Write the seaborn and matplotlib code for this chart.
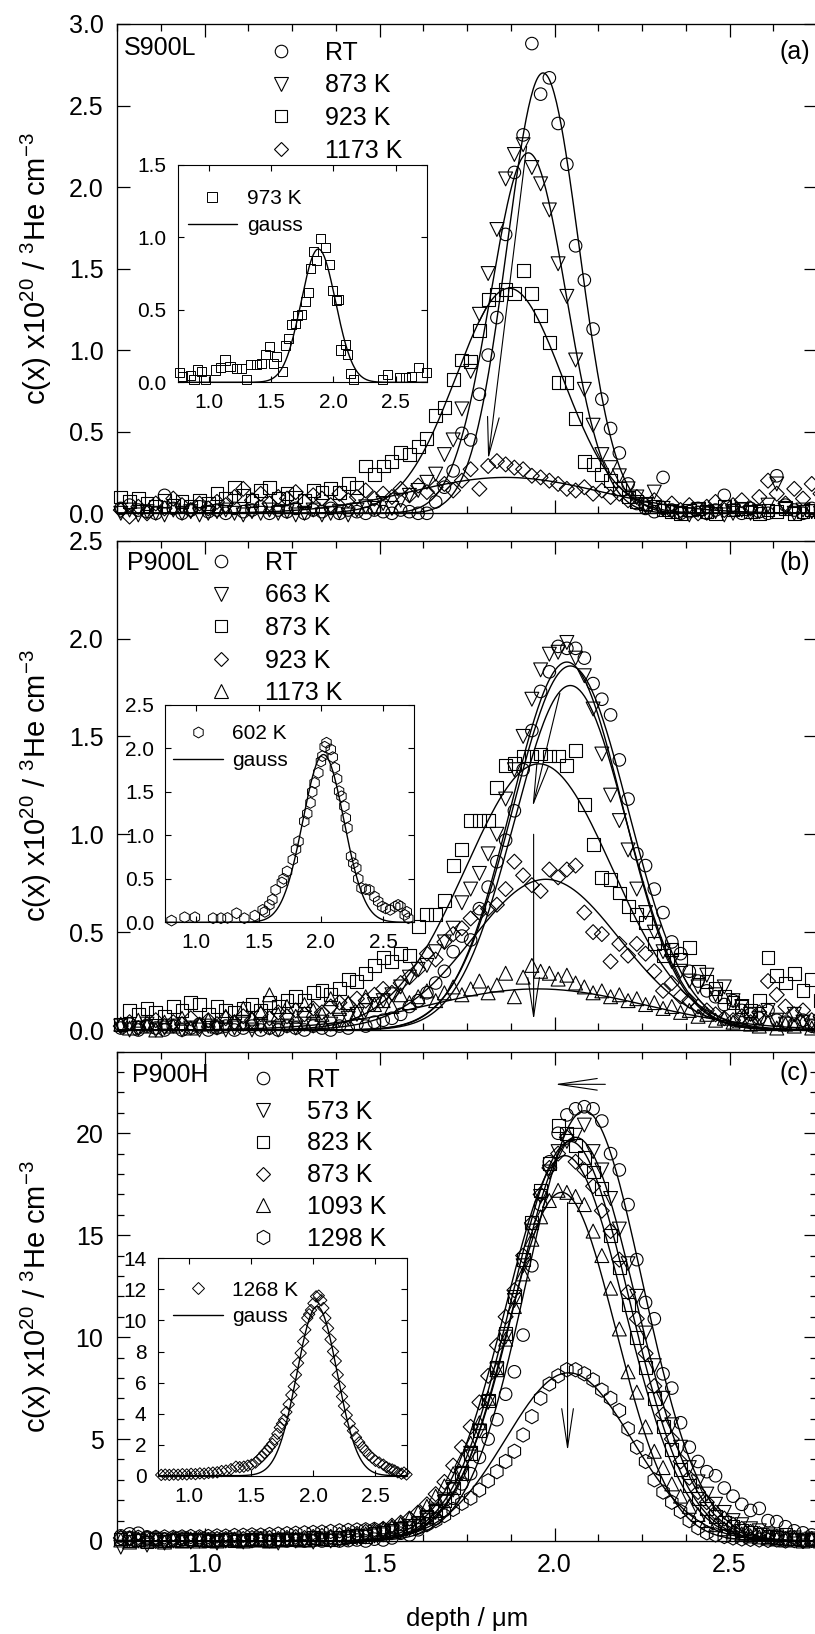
import numpy as np
import pandas as pd
import matplotlib
matplotlib.use("Agg")
import matplotlib.pyplot as plt
import seaborn as sns
from matplotlib.lines import Line2D
from matplotlib.ticker import MultipleLocator, NullLocator

# ---------------- data ----------------
depth = [0.760, 0.785, 0.810, 0.835, 0.860, 0.885, 0.910, 0.935, 0.960, 0.985,
         1.010, 1.035, 1.060, 1.085, 1.110, 1.135, 1.160, 1.185, 1.210, 1.235,
         1.260, 1.285, 1.310, 1.335, 1.360, 1.385, 1.410, 1.435, 1.460, 1.485,
         1.510, 1.535, 1.560, 1.585, 1.610, 1.635, 1.660, 1.685, 1.710, 1.735,
         1.760, 1.785, 1.810, 1.835, 1.860, 1.885, 1.910, 1.935, 1.960, 1.985,
         2.010, 2.035, 2.060, 2.085, 2.110, 2.135, 2.160, 2.185, 2.210, 2.235,
         2.260, 2.285, 2.310, 2.335, 2.360, 2.385, 2.410, 2.435, 2.460, 2.485,
         2.510, 2.535, 2.560, 2.585, 2.610, 2.635, 2.660, 2.685, 2.710, 2.735,
         2.760]

# panel (a) S900L
a_labels = ["RT", "873 K", "923 K", "1173 K"]
a_RT = [0.03, 0.05, 0.02, 0.01, 0.00, 0.11, 0.03, 0.00, 0.02, 0.04,
        0.01, 0.02, 0.00, 0.03, 0.01, 0.02, 0.04, 0.00, 0.02, 0.01,
        0.03, 0.00, 0.02, 0.01, 0.03, 0.00, 0.02, 0.01, 0.00, 0.02,
        0.01, 0.00, 0.02, 0.01, 0.00, 0.00, 0.07, 0.16, 0.26, 0.49,
        0.45, 0.73, 0.97, 1.20, 1.71, 2.09, 2.32, 2.88, 2.57, 2.67,
        2.39, 2.14, 1.64, 1.43, 1.13, 0.70, 0.52, 0.37, 0.18, 0.06,
        0.03, 0.01, 0.22, 0.02, 0.00, 0.01, 0.03, 0.00, 0.02, 0.11,
        0.02, 0.00, 0.03, 0.01, 0.00, 0.23, 0.05, 0.02, 0.00, 0.03,
        0.02]
a_873 = [0.00, 0.02, -0.01, 0.01, 0.00, -0.01, 0.02, 0.00, 0.01, -0.01,
         0.00, 0.01, 0.02, 0.00, -0.01, 0.01, 0.00, 0.02, 0.00, 0.01,
         -0.01, 0.00, 0.02, -0.01, 0.00, 0.01, -0.01, 0.02, 0.04, 0.03,
         0.06, 0.03, 0.08, 0.11, 0.14, 0.19, 0.24, 0.36, 0.45, 0.64,
         0.87, 1.22, 1.47, 1.74, 2.05, 2.20, 2.26, 2.12, 2.02, 1.86,
         1.53, 1.33, 0.94, 0.76, 0.54, 0.36, 0.28, 0.23, 0.15, 0.10,
         0.05, 0.13, 0.03, 0.01, 0.00, -0.01, 0.02, 0.00, 0.01, -0.01,
         0.00, 0.02, 0.00, 0.01, 0.05, 0.18, 0.03, 0.00, 0.02, 0.01,
         0.00]
a_923 = [0.10, 0.07, 0.09, 0.06, 0.04, 0.08, 0.05, 0.07, 0.04, 0.08,
         0.06, 0.12, 0.09, 0.16, 0.11, 0.08, 0.14, 0.16, 0.09, 0.12,
         0.10, 0.08, 0.14, 0.13, 0.15, 0.13, 0.18, 0.16, 0.29, 0.24,
         0.29, 0.32, 0.37, 0.36, 0.41, 0.46, 0.60, 0.65, 0.82, 0.94,
         0.93, 1.12, 1.31, 1.34, 1.37, 1.35, 1.49, 1.35, 1.21, 1.05,
         0.80, 0.80, 0.58, 0.32, 0.30, 0.24, 0.20, 0.15, 0.10, 0.07,
         0.06, 0.04, 0.02, 0.01, 0.00, 0.02, 0.03, 0.01, 0.00, 0.04,
         0.02, 0.03, 0.01, 0.00, 0.02, 0.01, 0.03, 0.00, 0.01, 0.02,
         0.01]
a_1173 = [0.02, -0.02, 0.04, 0.00, 0.06, 0.03, 0.09, 0.05, 0.02, 0.06,
          0.03, 0.07, 0.05, 0.10, 0.15, 0.08, 0.12, 0.06, 0.10, 0.09,
          0.13, 0.07, 0.11, 0.09, 0.05, 0.12, 0.08, 0.10, 0.14, 0.09,
          0.12, 0.10, 0.15, 0.11, 0.17, 0.13, 0.16, 0.18, 0.14, 0.20,
          0.27, 0.15, 0.29, 0.32, 0.30, 0.28, 0.27, 0.23, 0.22, 0.20,
          0.18, 0.15, 0.14, 0.16, 0.12, 0.14, 0.10, 0.12, 0.08, 0.10,
          0.05, 0.08, 0.03, 0.06, 0.02, 0.05, 0.00, 0.04, 0.07, 0.02,
          0.05, 0.08, 0.03, 0.10, 0.20, 0.12, 0.06, 0.15, 0.09, 0.18,
          0.12]
fit_a_center = [1.967, 1.925, 1.870, 1.860]
fit_a_amp = [2.70, 2.21, 1.38, 0.22]
fit_a_sigma = [0.103, 0.108, 0.152, 0.270]

# panel (b) P900L
b_labels = ["RT", "663 K", "873 K", "923 K", "1173 K"]
b_RT = [0.01, 0.03, 0.00, 0.02, 0.01, 0.00, 0.02, 0.00, 0.01, 0.03,
        0.00, 0.01, 0.02, 0.00, 0.01, 0.02, 0.00, 0.01, 0.00, 0.02,
        0.01, 0.00, 0.02, 0.01, 0.00, 0.02, 0.01, 0.03, 0.02, 0.04,
        0.05, 0.06, 0.08, 0.12, 0.15, 0.19, 0.24, 0.30, 0.40, 0.48,
        0.46, 0.62, 0.73, 0.86, 0.97, 1.12, 1.33, 1.53, 1.73, 1.83,
        1.96, 1.95, 1.95, 1.90, 1.77, 1.69, 1.61, 1.38, 1.18, 0.90,
        0.84, 0.72, 0.60, 0.45, 0.39, 0.30, 0.25, 0.20, 0.17, 0.13,
        0.15, 0.10, 0.08, 0.06, 0.10, 0.05, 0.04, 0.03, 0.05, 0.02,
        0.03]
b_663 = [0.02, 0.00, 0.01, 0.03, 0.00, 0.01, 0.02, 0.00, 0.01, 0.00,
         0.02, 0.01, 0.00, 0.01, 0.03, 0.00, 0.02, 0.01, 0.00, 0.02,
         0.01, 0.03, 0.02, 0.04, 0.03, 0.05, 0.06, 0.08, 0.10, 0.13,
         0.15, 0.18, 0.22, 0.27, 0.31, 0.33, 0.40, 0.45, 0.52, 0.65,
         0.72, 0.80, 0.90, 1.00, 1.18, 1.33, 1.50, 1.69, 1.84, 1.92,
         1.93, 1.98, 1.90, 1.81, 1.64, 1.41, 1.20, 1.07, 0.92, 0.72,
         0.60, 0.50, 0.40, 0.35, 0.30, 0.25, 0.22, 0.28, 0.18, 0.22,
         0.15, 0.12, 0.08, 0.06, 0.10, 0.05, 0.03, 0.08, 0.04, 0.02,
         0.03]
b_873 = [0.03, 0.10, 0.08, 0.11, 0.09, 0.07, 0.12, 0.10, 0.14, 0.13,
         0.08, 0.12, 0.10, 0.09, 0.11, 0.13, 0.10, 0.14, 0.12, 0.15,
         0.17, 0.15, 0.19, 0.20, 0.18, 0.21, 0.26, 0.25, 0.29, 0.33,
         0.37, 0.35, 0.39, 0.38, 0.53, 0.59, 0.59, 0.66, 0.84, 0.92,
         1.07, 1.07, 1.07, 1.24, 1.35, 1.36, 1.40, 1.40, 1.41, 1.40,
         1.40, 1.35, 1.43, 1.15, 0.95, 0.78, 0.77, 0.70, 0.63, 0.59,
         0.55, 0.44, 0.38, 0.41, 0.36, 0.42, 0.30, 0.25, 0.21, 0.17,
         0.14, 0.12, 0.10, 0.15, 0.37, 0.28, 0.24, 0.29, 0.20, 0.26,
         0.15]
b_923 = [0.02, 0.04, 0.01, 0.03, 0.05, 0.02, 0.04, 0.03, 0.06, 0.02,
         0.05, 0.03, 0.06, 0.04, 0.07, 0.05, 0.08, 0.06, 0.09, 0.07,
         0.10, 0.08, 0.11, 0.09, 0.12, 0.14, 0.13, 0.16, 0.15, 0.18,
         0.21, 0.19, 0.24, 0.27, 0.31, 0.39, 0.36, 0.45, 0.49, 0.52,
         0.57, 0.60, 0.62, 0.64, 0.72, 0.86, 0.79, 0.74, 0.71, 0.82,
         0.78, 0.82, 0.84, 0.60, 0.50, 0.49, 0.35, 0.44, 0.38, 0.44,
         0.39, 0.30, 0.20, 0.24, 0.17, 0.15, 0.12, 0.10, 0.08, 0.06,
         0.05, 0.07, 0.04, 0.09, 0.25, 0.18, 0.12, 0.08, 0.10, 0.05,
         0.07]
b_1173 = [0.03, 0.01, 0.05, 0.02, 0.00, 0.04, 0.02, 0.06, 0.01, 0.03,
          0.05, 0.02, 0.07, 0.04, 0.11, 0.06, 0.09, 0.18, 0.08, 0.12,
          0.07, 0.13, 0.10, 0.08, 0.16, 0.11, 0.14, 0.09, 0.17, 0.13,
          0.15, 0.12, 0.18, 0.14, 0.17, 0.20, 0.15, 0.19, 0.22, 0.18,
          0.21, 0.25, 0.19, 0.23, 0.29, 0.17, 0.27, 0.33, 0.30, 0.29,
          0.26, 0.28, 0.24, 0.22, 0.19, 0.20, 0.17, 0.18, 0.15, 0.16,
          0.13, 0.14, 0.11, 0.12, 0.09, 0.10, 0.07, 0.08, 0.05, 0.06,
          0.04, 0.05, 0.03, 0.02, 0.04, 0.01, 0.03, 0.02, 0.04, 0.01,
          0.02]
fit_b_center = [2.035, 2.045, 2.045, 1.955, 1.975, 1.950]
fit_b_amp = [1.88, 1.86, 1.76, 1.36, 0.77, 0.21]
fit_b_sigma = [0.160, 0.165, 0.160, 0.210, 0.210, 0.310]

# panel (c) P900H
c_labels = ["RT", "573 K", "823 K", "873 K", "1093 K", "1298 K"]
c_RT = [0.25, 0.35, 0.38, 0.20, 0.15, 0.10, 0.05, 0.08, 0.00, 0.05,
        0.02, 0.00, 0.03, 0.00, 0.02, 0.00, 0.01, 0.00, 0.02, 0.00,
        0.01, 0.00, 0.02, 0.00, 0.03, 0.00, 0.02, 0.05, 0.00, 0.09,
        0.05, 0.15, 0.38, 0.30, 0.55, 0.85, 1.10, 1.50, 2.10, 2.80,
        3.30, 4.10, 5.00, 5.95, 7.20, 8.30, 10.1, 13.5, 16.5, 18.6,
        20.0, 20.9, 21.2, 21.3, 21.2, 20.6, 19.0, 18.2, 16.5, 13.8,
        11.7, 10.9, 8.2, 7.5, 5.8, 4.6, 3.9, 3.4, 3.2, 2.6,
        2.2, 1.8, 1.5, 1.6, 1.0, 0.95, 0.7, 0.5, 0.4, 0.3,
        0.25]
c_573 = [-0.3, 0.1, 0.0, -0.2, 0.05, -0.1, 0.0, 0.1, -0.05, 0.0,
         0.05, -0.1, 0.0, 0.05, -0.05, 0.0, 0.1, 0.0, -0.1, 0.05,
         0.0, 0.05, -0.05, 0.1, 0.0, 0.05, 0.1, 0.15, 0.2, 0.25,
         0.3, 0.4, 0.5, 0.6, 0.8, 1.1, 1.4, 1.9, 2.5, 3.3,
         4.3, 5.4, 6.8, 8.4, 10.0, 11.8, 13.5, 15.2, 16.9, 18.1,
         19.1, 19.6, 19.9, 20.4, 19.1, 18.2, 16.8, 15.3, 13.6, 12.0,
         10.2, 8.6, 7.0, 5.7, 4.6, 3.6, 2.9, 2.3, 1.8, 1.4,
         1.0, 0.8, 0.6, 0.5, 0.3, 0.2, 0.1, 0.15, 0.05, 0.1,
         0.0]
c_823 = [0.1, 0.0, 0.05, -0.05, 0.1, 0.0, 0.05, 0.0, 0.1, 0.05,
         0.0, 0.05, 0.1, 0.0, 0.05, 0.1, 0.05, 0.0, 0.1, 0.05,
         0.1, 0.05, 0.15, 0.1, 0.05, 0.15, 0.2, 0.25, 0.2, 0.35,
         0.4, 0.5, 0.6, 0.75, 0.9, 1.2, 1.5, 2.0, 2.6, 3.3,
         4.3, 5.4, 6.9, 8.5, 10.2, 12.0, 13.8, 15.6, 17.2, 18.5,
         20.4, 20.0, 19.4, 18.8, 18.1, 17.3, 15.0, 13.4, 11.6, 10.0,
         8.5, 7.0, 5.6, 4.5, 3.5, 2.7, 2.1, 1.6, 1.2, 0.9,
         0.7, 0.5, 0.4, 0.3, 0.2, 0.15, 0.3, 0.1, 0.05, 0.1,
         0.05]
c_873 = [0.15, 0.10, 0.05, 0.10, 0.00, 0.05, 0.10, 0.05, 0.00, 0.10,
         0.05, 0.10, 0.10, 0.05, 0.10, 0.15, 0.10, 0.15, 0.10, 0.15,
         0.20, 0.15, 0.20, 0.25, 0.20, 0.30, 0.30, 0.35, 0.45, 0.50,
         0.60, 0.75, 0.90, 1.10, 1.40, 1.80, 2.30, 2.90, 3.70, 4.60,
         5.60, 6.80, 8.10, 9.60, 11.0, 12.3, 14.0, 15.6, 17.0, 18.3,
         19.0, 19.8, 18.6, 18.2, 17.4, 16.2, 15.2, 13.8, 12.2, 10.9,
         9.2, 7.6, 6.2, 5.0, 3.9, 3.1, 2.4, 1.9, 1.4, 1.1,
         0.8, 0.6, 0.45, 0.35, 0.25, 0.2, 0.1, 0.15, 0.0, 0.1,
         0.05]
c_1093 = [0.05, -0.05, 0.10, 0.00, 0.05, -0.05, 0.05, 0.00, 0.10, 0.00,
          0.05, 0.00, 0.05, 0.10, 0.00, 0.05, 0.10, 0.00, 0.05, 0.10,
          0.10, 0.05, 0.15, 0.10, 0.20, 0.15, 0.25, 0.30, 0.35, 0.45,
          0.55, 0.70, 0.85, 1.10, 1.40, 1.70, 2.20, 2.70, 3.30, 4.00,
          4.80, 5.80, 7.00, 8.40, 9.90, 11.5, 13.1, 14.8, 15.9, 16.7,
          17.2, 17.1, 16.9, 16.5, 15.2, 14.0, 12.4, 10.4, 8.3, 7.3,
          5.6, 4.4, 3.6, 2.8, 2.2, 1.7, 1.3, 1.0, 0.8, 0.6,
          0.45, 0.35, 0.25, 0.2, 0.15, 0.1, 0.05, 0.1, 0.0, 0.05,
          0.0]
c_1298 = [0.15, 0.15, 0.18, 0.15, 0.18, 0.20, 0.18, 0.20, 0.22, 0.20,
          0.22, 0.25, 0.24, 0.27, 0.28, 0.30, 0.29, 0.32, 0.34, 0.36,
          0.38, 0.40, 0.42, 0.44, 0.47, 0.50, 0.52, 0.54, 0.55, 0.57,
          0.58, 0.60, 0.62, 0.66, 0.70, 0.80, 1.00, 1.25, 1.55, 1.85,
          2.10, 2.50, 2.95, 3.40, 3.90, 4.40, 5.20, 6.10, 7.00, 7.70,
          8.10, 8.40, 8.40, 8.20, 7.90, 7.40, 7.00, 6.40, 5.50, 4.60,
          3.90, 3.00, 2.40, 1.90, 1.45, 1.00, 0.65, 0.40, 0.30, 0.22,
          0.15, 0.10, 0.08, 0.05, 0.03, 0.05, 0.00, 0.02, 0.00, 0.03,
          0.00]
fit_c_center = [2.085, 2.060, 2.045, 2.030, 2.020, 2.040]
fit_c_amp = [21.1, 19.8, 19.6, 18.9, 17.1, 8.25]
fit_c_sigma = [0.165, 0.170, 0.168, 0.170, 0.155, 0.180]

# insets
inset_a_label = "973 K"
inset_a_xy = [(0.763, 0.066), (0.790, 0.040), (0.849, 0.050), (0.881, 0.016), (0.908, 0.085),
              (0.943, 0.073), (0.970, 0.016), (1.050, 0.085), (1.090, 0.100), (1.130, 0.154),
              (1.170, 0.108), (1.224, 0.096), (1.264, 0.096), (1.299, 0.016), (1.331, 0.120),
              (1.385, 0.120), (1.425, 0.130), (1.452, 0.190), (1.487, 0.250), (1.519, 0.130),
              (1.546, 0.177), (1.594, 0.073), (1.613, 0.257), (1.640, 0.304), (1.667, 0.396),
              (1.693, 0.407), (1.715, 0.460), (1.747, 0.469), (1.774, 0.557), (1.800, 0.621),
              (1.819, 0.787), (1.840, 0.902), (1.867, 0.844), (1.894, 0.994), (1.934, 0.932),
              (1.966, 0.810), (1.996, 0.637), (2.028, 0.564), (2.044, 0.573), (2.060, 0.223),
              (2.095, 0.262), (2.117, 0.195), (2.135, 0.062), (2.162, 0.016), (2.398, 0.016),
              (2.435, 0.057), (2.532, 0.034), (2.583, 0.034), (2.631, 0.039), (2.685, 0.104),
              (2.746, 0.066)]
fit_inset_a = [1.880, 0.92, 0.138]

inset_b_label = "602 K"
inset_b_xy = [(0.800, 0.020), (0.905, 0.058), (0.988, 0.058), (1.134, 0.047), (1.197, 0.047),
              (1.250, 0.050), (1.322, 0.104), (1.385, 0.047), (1.469, 0.077), (1.532, 0.143),
              (1.550, 0.120), (1.586, 0.200), (1.610, 0.260), (1.636, 0.373), (1.686, 0.458),
              (1.700, 0.500), (1.728, 0.585), (1.774, 0.720), (1.800, 0.840), (1.820, 0.931),
              (1.866, 1.162), (1.890, 1.250), (1.916, 1.374), (1.930, 1.500), (1.949, 1.604),
              (1.979, 1.720), (2.000, 1.850), (2.012, 1.912), (2.030, 2.020), (2.045, 2.066),
              (2.079, 1.989), (2.095, 1.900), (2.112, 1.778), (2.130, 1.650), (2.146, 1.508),
              (2.165, 1.450), (2.188, 1.335), (2.200, 1.200), (2.213, 1.085), (2.242, 0.758),
              (2.260, 0.680), (2.284, 0.624), (2.300, 0.500), (2.326, 0.393), (2.360, 0.380),
              (2.389, 0.373), (2.430, 0.296), (2.460, 0.240), (2.493, 0.181), (2.520, 0.160),
              (2.556, 0.143), (2.597, 0.181), (2.620, 0.200), (2.639, 0.181), (2.673, 0.085),
              (2.690, 0.120), (2.702, 0.047)]
fit_inset_b = [2.020, 1.93, 0.165]

inset_c_label = "1268 K"
inset_c_xy = [(0.780, 0.05), (0.812, 0.07), (0.845, 0.05), (0.880, 0.08), (0.915, 0.06),
              (0.950, 0.10), (0.985, 0.08), (1.020, 0.12), (1.055, 0.10), (1.090, 0.15),
              (1.125, 0.13), (1.160, 0.18), (1.195, 0.20), (1.230, 0.22), (1.265, 0.30),
              (1.300, 0.33), (1.340, 0.42), (1.380, 0.58), (1.410, 0.55), (1.443, 0.58),
              (1.475, 0.65), (1.505, 0.71), (1.537, 0.85), (1.567, 1.08), (1.590, 1.25),
              (1.609, 1.46), (1.630, 1.60), (1.650, 1.84), (1.672, 2.05), (1.692, 2.34),
              (1.713, 2.70), (1.733, 3.10), (1.750, 3.35), (1.767, 3.60), (1.785, 4.10),
              (1.804, 4.60), (1.825, 5.20), (1.845, 5.75), (1.862, 6.50), (1.879, 7.26),
              (1.900, 7.90), (1.920, 8.65), (1.937, 9.40), (1.953, 10.16), (1.968, 10.40),
              (1.983, 10.67), (2.003, 11.10), (2.024, 11.55), (2.045, 11.60), (2.065, 11.30),
              (2.082, 10.80), (2.098, 10.16), (2.120, 9.50), (2.140, 8.78), (2.160, 8.00),
              (2.182, 7.39), (2.198, 6.50), (2.215, 5.75), (2.232, 5.10), (2.248, 4.49),
              (2.270, 3.90), (2.294, 3.35), (2.320, 2.90), (2.344, 2.47), (2.370, 2.15),
              (2.397, 1.84), (2.420, 1.60), (2.447, 1.34), (2.475, 1.15), (2.501, 0.96),
              (2.530, 0.85), (2.564, 0.71), (2.590, 0.55), (2.613, 0.45), (2.635, 0.40),
              (2.655, 0.33), (2.680, 0.22), (2.709, 0.13), (2.730, 0.20), (2.750, 0.08)]
fit_inset_c = [2.032, 10.9, 0.162]

# arrows (start, end) in data coordinates
arrows_a = [((1.92, 2.25), (1.81, 0.33))]
arrows_b = [((2.015, 1.72), (1.937, 1.14)), ((1.94, 1.00), (1.94, 0.05))]
arrows_c = [((2.145, 22.4), (2.00, 22.4)), ((2.037, 16.6), (2.037, 4.4))]

# ---------------- style ----------------
sns.set_theme(style="ticks")
plt.rcParams.update({
    "font.family": ["Liberation Sans", "DejaVu Sans"],
    "mathtext.default": "regular",
    "axes.edgecolor": "black",
    "axes.linewidth": 0.95,
    "xtick.color": "black",
    "ytick.color": "black",
    "text.color": "black",
    "axes.labelcolor": "black",
    "axes.facecolor": "white",
    "figure.facecolor": "white",
})

MAIN_MS = {"o": 9.0, "v": 10.0, "^": 10.0, "s": 9.3, "D": 7.6, "h": 10.3}
W, H = 815, 1634
fig = plt.figure(figsize=(W / 100, H / 100), dpi=100)


def fx(px):
    return px / W


def fy(py):
    return 1 - py / H


def gauss(x, c, a, s):
    return a * np.exp(-0.5 * ((x - c) / s) ** 2)


xfit = np.linspace(0.75, 2.75, 600)


def main_axes(top, bottom):
    return fig.add_axes([fx(117.3), fy(bottom), (817 - 117.3) / W, (bottom - top) / H])


def style_main(ax, ylim, ymaj, ymin=None, show_x=False):
    ax.set_xlim(0.75, 2.75)
    ax.set_ylim(*ylim)
    ax.xaxis.set_major_locator(MultipleLocator(0.5))
    ax.xaxis.set_minor_locator(MultipleLocator(0.125))
    ax.yaxis.set_major_locator(MultipleLocator(ymaj))
    ax.yaxis.set_minor_locator(MultipleLocator(ymin) if ymin else NullLocator())
    ax.tick_params(which="both", direction="in", top=True, right=True, width=0.9)
    ax.tick_params(which="major", length=9.5, labelsize=18)
    ax.tick_params(which="minor", length=5)
    ax.tick_params(axis="y", pad=10)
    ax.tick_params(axis="x", pad=9, labelbottom=show_x)
    for sp in ax.spines.values():
        sp.set_linewidth(0.95)


def style_inset(ax, ylim, ymaj):
    ax.set_xlim(0.75, 2.75)
    ax.set_ylim(*ylim)
    ax.xaxis.set_major_locator(MultipleLocator(0.5))
    ax.yaxis.set_major_locator(MultipleLocator(ymaj))
    ax.xaxis.set_minor_locator(NullLocator())
    ax.yaxis.set_minor_locator(NullLocator())
    ax.tick_params(which="major", direction="in", top=True, right=True,
                   length=4, width=0.8, labelsize=15, pad=8)
    for sp in ax.spines.values():
        sp.set_linewidth(0.8)


def draw_series(ax, series, markers, sizes, fits, x=depth, lw=0.8, fit_lw=1.0):
    for c, a, s in zip(*fits):
        sns.lineplot(x=xfit, y=gauss(xfit, c, a, s), ax=ax, color="black",
                     linewidth=fit_lw, estimator=None, sort=False, legend=False, zorder=2)
    for ys, m, ms in zip(series, markers, sizes):
        sns.scatterplot(x=x, y=ys, ax=ax, marker=m, s=ms ** 2, facecolor="none",
                        edgecolor="black", linewidth=lw, legend=False, zorder=3, clip_on=False)


def main_legend(ax, labels, markers, left_px, top_px, spacing):
    handles = [Line2D([], [], ls="none", marker=m, markersize=MAIN_MS[m], mfc="none",
                      mec="black", mew=0.8) for m in markers]
    ax.legend(handles, labels, loc="upper left", bbox_to_anchor=(fx(left_px), fy(top_px)),
              bbox_transform=fig.transFigure, frameon=False, fontsize=18,
              handlelength=1.0, handletextpad=1.27, labelspacing=spacing,
              borderpad=0, borderaxespad=0, handleheight=0.7)


def inset_legend(ax, label, marker, ms, left_px, top_px, hl, htp, spacing):
    handles = [Line2D([], [], ls="none", marker=marker, markersize=ms, mfc="none",
                      mec="black", mew=0.7),
               Line2D([], [], color="black", lw=1.0)]
    ax.legend(handles, [label, "gauss"], loc="upper left",
              bbox_to_anchor=(fx(left_px), fy(top_px)), bbox_transform=fig.transFigure,
              frameon=False, fontsize=15, handlelength=hl, handletextpad=htp,
              labelspacing=spacing, borderpad=0, borderaxespad=0)


def draw_arrows(ax, arrows):
    for start, end in arrows:
        ax.annotate("", xy=end, xytext=start,
                    arrowprops=dict(arrowstyle="->,head_length=2.8,head_width=0.42",
                                    color="black", lw=0.8, shrinkA=0, shrinkB=0,
                                    mutation_scale=10))


ylab = r"c(x) x10$^{20}$ / $^{3}$He cm$^{-3}$"
YLAB_SIZE = 21

# ----- panel a -----
ax_a = main_axes(24, 513.3)
a_markers = ["o", "v", "s", "D"]
draw_series(ax_a, [a_RT, a_873, a_923, a_1173], a_markers, [MAIN_MS[m] for m in a_markers],
            (fit_a_center, fit_a_amp, fit_a_sigma))
style_main(ax_a, (0, 3.0), 0.5)
draw_arrows(ax_a, arrows_a)
main_legend(ax_a, a_labels, a_markers, 268.2, 41.0, 0.34)
ax_a.text(0.0096, 0.951, "S900L", transform=ax_a.transAxes, fontsize=18, ha="left", va="center")
ax_a.text(0.9686, 0.9434, "(a)", transform=ax_a.transAxes, fontsize=18, ha="center", va="center")
ax_a.set_ylabel(ylab, fontsize=YLAB_SIZE, va="center")
ax_a.yaxis.set_label_coords(-0.1155, 0.5)

# ----- panel b -----
ax_b = main_axes(540.7, 1030)
b_markers = ["o", "v", "s", "D", "^"]
draw_series(ax_b, [b_RT, b_663, b_873, b_923, b_1173], b_markers, [MAIN_MS[m] for m in b_markers],
            (fit_b_center, fit_b_amp, fit_b_sigma))
style_main(ax_b, (0, 2.5), 0.5)
draw_arrows(ax_b, arrows_b)
main_legend(ax_b, b_labels, b_markers, 208.5, 551.0, 0.34)
ax_b.text(0.0134, 0.9538, "P900L", transform=ax_b.transAxes, fontsize=18, ha="left", va="center")
ax_b.text(0.9686, 0.9544, "(b)", transform=ax_b.transAxes, fontsize=18, ha="center", va="center")
ax_b.set_ylabel(ylab, fontsize=YLAB_SIZE, va="center")
ax_b.yaxis.set_label_coords(-0.1155, 0.5)

# ----- panel c -----
ax_c = main_axes(1051.7, 1541)
c_markers = ["o", "v", "s", "D", "^", "h"]
draw_series(ax_c, [c_RT, c_573, c_823, c_873, c_1093, c_1298], c_markers,
            [MAIN_MS[m] for m in c_markers], (fit_c_center, fit_c_amp, fit_c_sigma))
style_main(ax_c, (0, 24), 5, 1, show_x=True)
draw_arrows(ax_c, arrows_c)
main_legend(ax_c, c_labels, c_markers, 250.0, 1068.0, 0.31)
ax_c.text(0.0206, 0.9524, "P900H", transform=ax_c.transAxes, fontsize=18, ha="left", va="center")
ax_c.text(0.967, 0.957, "(c)", transform=ax_c.transAxes, fontsize=18, ha="center", va="center")
ax_c.set_ylabel(ylab, fontsize=YLAB_SIZE, va="center")
ax_c.yaxis.set_label_coords(-0.1155, 0.5)
ax_c.set_xlabel("depth / \u03bcm", fontsize=18.5, va="center")
ax_c.xaxis.set_label_coords(0.5, -0.1594)

# ----- insets -----
IW, IH = 249 / W, 217.3 / H

ins_a = fig.add_axes([fx(177.7), fy(382.3), IW, IH])
xa, ya = zip(*inset_a_xy)
draw_series(ins_a, [list(ya)], ["s"], [6.5], ([fit_inset_a[0]], [fit_inset_a[1]], [fit_inset_a[2]]),
            x=list(xa), lw=0.7)
style_inset(ins_a, (0, 1.5), 0.5)
inset_legend(ins_a, inset_a_label, "s", 6.5, 188.0, 189.5, 2.33, 0.5, 0.38)

ins_b = fig.add_axes([fx(165.3), fy(922.3), IW, IH])
xb, yb = zip(*inset_b_xy)
draw_series(ins_b, [list(yb)], ["h"], [7.8], ([fit_inset_b[0]], [fit_inset_b[1]], [fit_inset_b[2]]),
            x=list(xb), lw=0.7)
style_inset(ins_b, (0, 2.5), 0.5)
inset_legend(ins_b, inset_b_label, "h", 7.8, 172.6, 724.0, 2.4, 0.47, 0.38)

ins_c = fig.add_axes([fx(157.5), fy(1475.7), IW, IH])
xc, yc = zip(*inset_c_xy)
draw_series(ins_c, [list(yc)], ["D"], [5.8], ([fit_inset_c[0]], [fit_inset_c[1]], [fit_inset_c[2]]),
            x=list(xc), lw=0.7)
style_inset(ins_c, (0, 14), 2)
inset_legend(ins_c, inset_c_label, "D", 5.8, 172.6, 1280.5, 2.4, 0.47, 0.36)

fig.savefig("out.png", dpi=100)
